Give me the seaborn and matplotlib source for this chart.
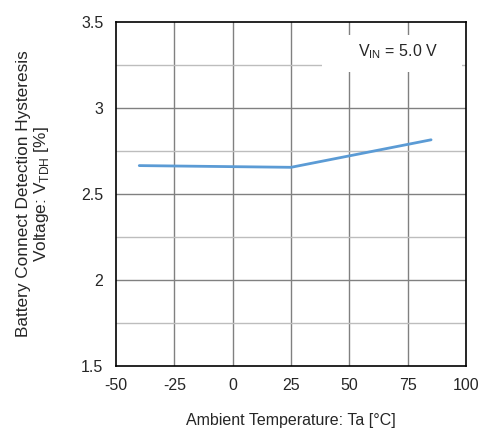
import pandas as pd
import seaborn as sns
import matplotlib.pyplot as plt
from matplotlib.patches import Rectangle

temperature = [-40, 25, 85]
hysteresis = [2.665, 2.655, 2.815]

xTicks = [-50, -25, 0, 25, 50, 75, 100]
yTicks = [1.5, 2, 2.5, 3, 3.5]
yTickLabels = ['1.5', '2', '2.5', '3', '3.5']

df = pd.DataFrame({'Ta': temperature, 'VTDH': hysteresis})

sns.set_style('white')
plt.rcParams['font.family'] = ['Liberation Sans', 'DejaVu Sans']

fig = plt.figure(figsize=(4.83, 4.36), dpi=100)
ax = fig.add_axes([0.240, 0.1606, 0.725, 0.789])

#grid
for x in xTicks[1:-1]:
    ax.axvline(x, color='#808080', lw=1, zorder=1)
for y in [1.75, 2, 2.25, 2.5, 2.75, 3, 3.25]:
    color = '#808080' if y in (2, 2.5, 3) else '#bdbdbd'
    ax.axhline(y, color=color, lw=1, zorder=1)

sns.lineplot(data=df, x='Ta', y='VTDH', ax=ax, color='#5b9bd5', lw=2, zorder=3)

fs = 11.5
ax.set_xlim(-50, 100)
ax.set_ylim(1.5, 3.5)
ax.set_xticks(xTicks)
ax.set_xticklabels([str(t) for t in xTicks], fontsize=fs)
ax.set_yticks(yTicks)
ax.set_yticklabels(yTickLabels, fontsize=fs)
ax.tick_params(axis='both', length=0, pad=9)

for s in ax.spines.values():
    s.set_color('black')
    s.set_linewidth(1.2)
    s.set_zorder(5)

ax.set_xlabel('Ambient Temperature: Ta [°C]', fontsize=fs, labelpad=14)
ax.set_ylabel('Battery Connect Detection Hysteresis\nVoltage: V$_{\\mathregular{TDH}}$ [%]', fontsize=12.4,
              labelpad=22, linespacing=1.05)

#white box behind the condition text
ax.add_patch(Rectangle((0.589, 0.855), 0.40, 0.107, transform=ax.transAxes,
                       facecolor='white', edgecolor='none', zorder=4))
ax.text(0.92, 0.913, 'V$_{\\mathregular{IN}}$ = 5.0 V', transform=ax.transAxes, ha='right', va='center',
        fontsize=fs, zorder=4)

plt.savefig('out.png', dpi=100)
